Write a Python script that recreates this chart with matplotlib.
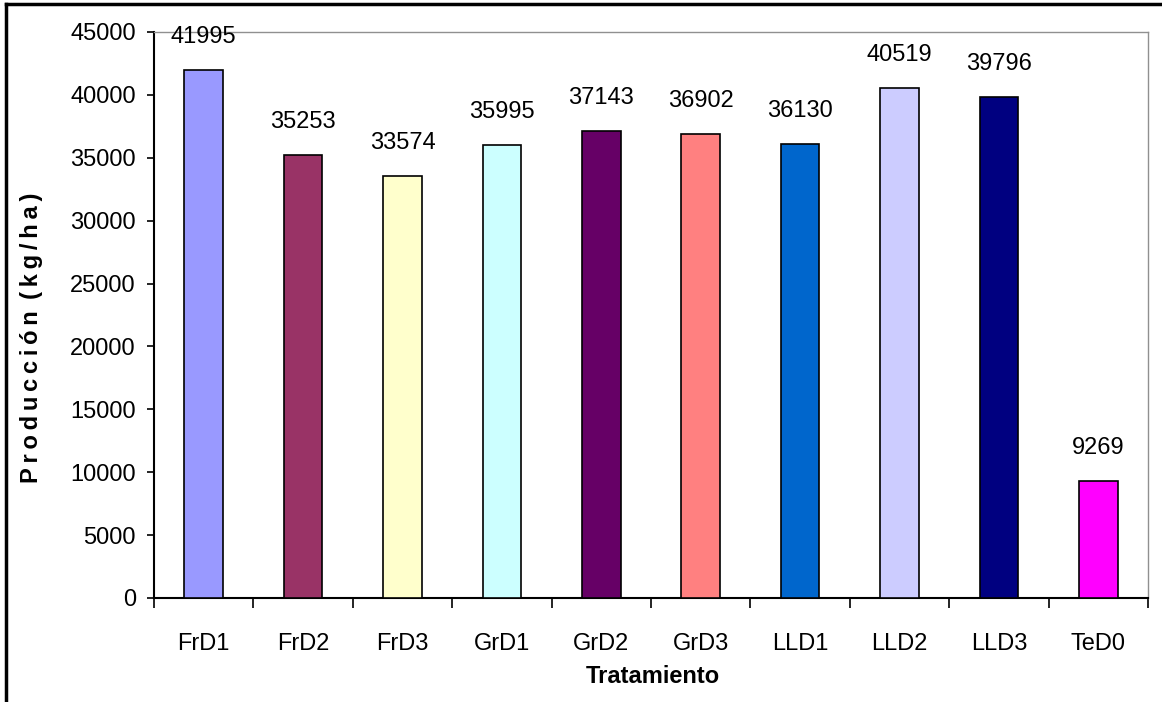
import numpy as np
import matplotlib.pyplot as plt

plt.rcParams['font.family'] = ['Liberation Sans', 'DejaVu Sans']

tratamientos = ['FrD1', 'FrD2', 'FrD3', 'GrD1', 'GrD2', 'GrD3', 'LLD1', 'LLD2', 'LLD3', 'TeD0']
produccion = [41995, 35253, 33574, 35995, 37143, 36902, 36130, 40519, 39796, 9269]
colores = ['#9999FF', '#993366', '#FFFFCC', '#CCFFFF', '#660066',
           '#FF8080', '#0066CC', '#CCCCFF', '#000080', '#FF00FF']

fig = plt.figure(figsize=(11.62, 7.02), dpi=100)
ax = fig.add_axes([154/1162, 1-598/702, (1148-154)/1162, (598-32)/702])

x = np.arange(len(tratamientos))
ax.bar(x, produccion, width=0.39, color=colores, edgecolor='black', linewidth=1.2, zorder=3)
for xi, v in zip(x, produccion):
    ax.text(xi, v + 1750, str(v), ha='center', va='bottom', fontsize=17)

ax.set_xlim(-0.5, len(tratamientos) - 0.5)
ax.set_ylim(0, 45000)
ax.set_yticks(np.arange(0, 45001, 5000))
ax.tick_params(axis='y', labelsize=17, length=5, width=1.2, direction='out', pad=8)
ax.set_xticks(x)
ax.set_xticklabels(tratamientos, fontsize=17)
ax.tick_params(axis='x', length=0, pad=25)
ax.set_xticks(np.arange(-0.5, len(tratamientos)), minor=True)
ax.tick_params(axis='x', which='minor', length=7, width=1.2, direction='out')

for s in ['left', 'bottom']:
    ax.spines[s].set_linewidth(1.5)
    ax.spines[s].set_color('black')
for s in ['top', 'right']:
    ax.spines[s].set_linewidth(1.0)
    ax.spines[s].set_color('#909090')

# slightly letter-spaced axis title, like the original
ylab = '\u2009'.join('Producción') + ' \u2009' + '\u2009'.join('(kg/ha)')
ax.set_ylabel(ylab, fontsize=17, fontweight='bold', va='center')
ax.yaxis.set_label_coords((32-154)/994, (598-338)/566)
ax.set_xlabel('Tratamiento', fontsize=17, fontweight='bold')
ax.xaxis.set_label_coords(0.5015, (598-665)/566)

# outer border of the chart
fig.add_artist(plt.Line2D([6/1162, 6/1162], [0, 1-4/702], color='black', lw=2.5))
fig.add_artist(plt.Line2D([6/1162, 1], [1-4/702, 1-4/702], color='black', lw=2.5))

fig.savefig('out.png', dpi=100)
